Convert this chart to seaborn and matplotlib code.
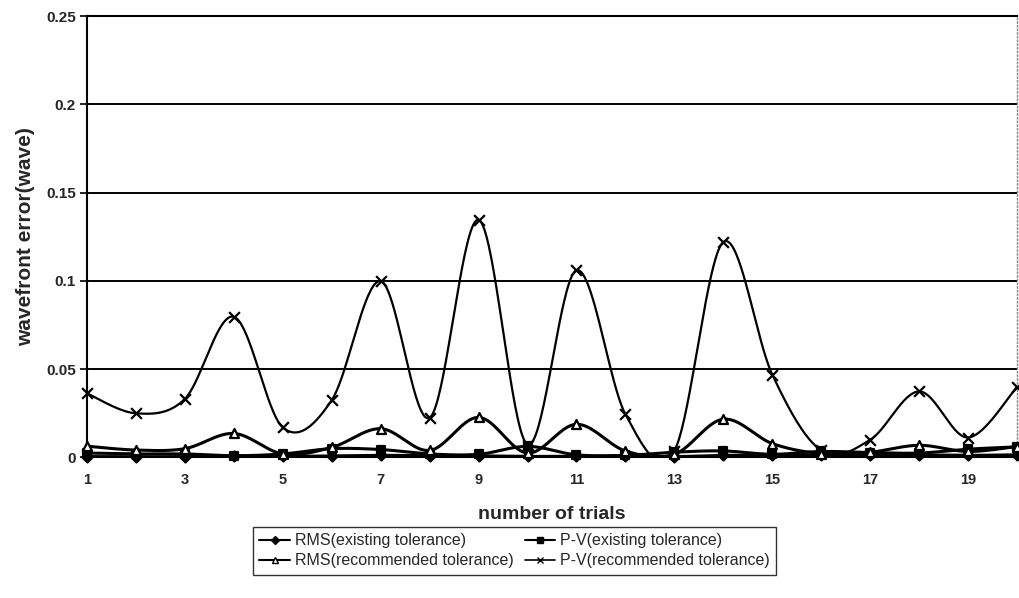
import numpy as np
import pandas as pd
import matplotlib
matplotlib.use("Agg")
import matplotlib.pyplot as plt
from matplotlib.lines import Line2D
import seaborn as sns

sns.set_theme(style="white")
plt.rcParams['font.family'] = ['Liberation Sans', 'DejaVu Sans']

# trial numbers
trials = list(range(1, 21))

# wavefront error values (wave)
rms_existing = [0.0005, 0.0004, 0.0005, 0.0008, 0.0006, 0.0009, 0.0012, 0.0010, 0.0009, 0.0006,
                0.0007, 0.0009, 0.0005, 0.0012, 0.0012, 0.0013, 0.0012, 0.0014, 0.0012, 0.0015]
pv_existing = [0.0025, 0.0020, 0.0020, 0.0010, 0.0020, 0.0050, 0.0045, 0.0020, 0.0018, 0.0063,
               0.0015, 0.0012, 0.0030, 0.0037, 0.0018, 0.0034, 0.0028, 0.0025, 0.0047, 0.0060]
rms_recommended = [0.0064, 0.0042, 0.0050, 0.0136, 0.0020, 0.0057, 0.0163, 0.0040, 0.0227, 0.0025,
                   0.0188, 0.0037, 0.0018, 0.0217, 0.0079, 0.0022, 0.0030, 0.0069, 0.0034, 0.0062]
pv_recommended = [0.0363, 0.0250, 0.0332, 0.0797, 0.0170, 0.0325, 0.0999, 0.0225, 0.1346, 0.0073,
                  0.1060, 0.0245, 0.0038, 0.1220, 0.0470, 0.0040, 0.0100, 0.0374, 0.0113, 0.0400]

series_names = ["RMS(existing tolerance)", "P-V(existing tolerance)",
                "RMS(recommended tolerance)", "P-V(recommended tolerance)"]


def smooth(x, y, n=40):
    # Excel-like smoothed line: cubic Bezier through points, Catmull-Rom tangents
    x = np.asarray(x, float)
    y = np.asarray(y, float)
    px = np.concatenate([[x[0]], x, [x[-1]]])
    py = np.concatenate([[y[0]], y, [y[-1]]])
    xs, ys = [], []
    t = np.linspace(0, 1, n)
    for i in range(1, len(px) - 2):
        p0 = np.array([px[i], py[i]])
        p3 = np.array([px[i + 1], py[i + 1]])
        p1 = p0 + (np.array([px[i + 1], py[i + 1]]) - np.array([px[i - 1], py[i - 1]])) / 6
        p2 = p3 - (np.array([px[i + 2], py[i + 2]]) - np.array([px[i], py[i]])) / 6
        b = ((1 - t) ** 3)[:, None] * p0 + (3 * (1 - t) ** 2 * t)[:, None] * p1 \
            + (3 * (1 - t) * t ** 2)[:, None] * p2 + (t ** 3)[:, None] * p3
        xs.extend(b[:, 0])
        ys.extend(b[:, 1])
    return pd.DataFrame({"x": xs, "y": ys})


fig = plt.figure(figsize=(10.19, 5.98), dpi=100)
ax = fig.add_axes([0.0854, 0.235, 0.9126, 0.738])

styles = [
    # values, marker, size, facecolor, linewidth
    (rms_existing, "D", 26, "black", 2.2),
    (pv_existing, "s", 36, "black", 2.2),
    (rms_recommended, "^", 42, "white", 2.2),
    (pv_recommended, "x", 60, "black", 1.6),
]

for vals, mk, sz, fc, lw in styles:
    curve = smooth(trials, vals)
    sns.lineplot(data=curve, x="x", y="y", sort=False, estimator=None,
                 color="black", linewidth=lw, ax=ax)
    sns.scatterplot(x=trials, y=vals, marker=mk, s=sz, color=fc,
                    edgecolor="black", linewidth=1.6, zorder=5, ax=ax, clip_on=False)

ax.set_xlim(1, 20)
ax.set_ylim(0, 0.25)
ax.set_xticks(trials[::2])
ax.set_xticklabels([str(t) for t in trials[::2]], fontsize=10.5, fontweight="bold")
ax.set_yticks([0, 0.05, 0.1, 0.15, 0.2, 0.25])
ax.set_yticklabels(["0", "0.05", "0.1", "0.15", "0.2", "0.25"], fontsize=11, fontweight="bold")
ax.tick_params(axis="y", length=5, width=1.2, color="black", left=True, pad=3)
ax.tick_params(axis="x", length=0, pad=11)

ax.yaxis.grid(True, color="black", linewidth=1.4)
ax.set_axisbelow(True)
for side in ["left", "bottom", "top"]:
    ax.spines[side].set_color("black")
    ax.spines[side].set_linewidth(1.5)
ax.spines["right"].set_color("#888888")
ax.spines["right"].set_linewidth(1.0)
ax.spines["right"].set_linestyle(":")

ax.set_xlabel("number of trials", fontsize=14, fontweight="bold", labelpad=14)
ax.set_ylabel("wavefront error(wave)", fontsize=15, fontweight="bold", labelpad=8)

handles = [
    Line2D([], [], color="black", lw=1.5, marker="D", ms=4, mfc="black", mec="black"),
    Line2D([], [], color="black", lw=1.5, marker="^", ms=5, mfc="white", mec="black"),
    Line2D([], [], color="black", lw=1.5, marker="s", ms=5, mfc="black", mec="black"),
    Line2D([], [], color="black", lw=1.2, marker="x", ms=5, mec="black"),
]
labels = [series_names[0], series_names[2], series_names[1], series_names[3]]
leg = fig.legend(handles, labels, loc="upper left",
                 bbox_to_anchor=(0.2483, 0.0, 0.5132, 0.1187), mode="expand",
                 ncol=2, fontsize=11.5, frameon=True, fancybox=False, handlelength=1.9,
                 handletextpad=0.3, columnspacing=0.6, labelspacing=0.3, borderpad=0.4,
                 borderaxespad=0.0)
leg.get_frame().set_edgecolor("black")
leg.get_frame().set_linewidth(1.0)

fig.savefig("out.png", dpi=100, facecolor="white")
